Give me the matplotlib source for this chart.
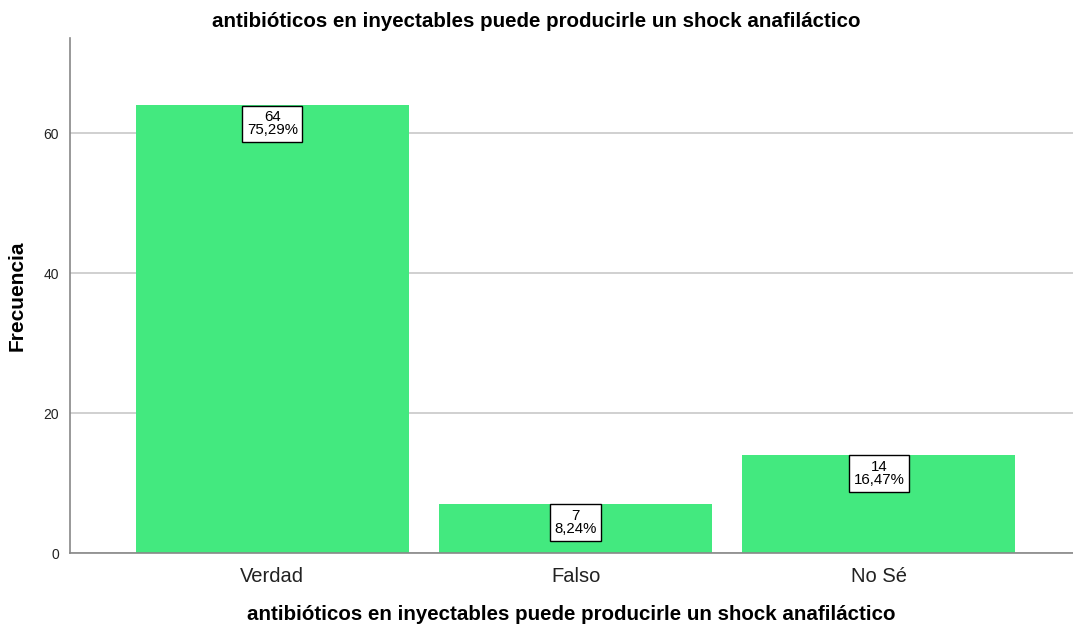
import matplotlib
matplotlib.use('Agg')
import matplotlib.pyplot as plt

categories = ["Verdad", "Falso", "No Sé"]
counts = [64, 7, 14]
percents = ["75,29%", "8,24%", "16,47%"]
yticks = [0, 20, 40, 60]
title = "antibióticos en inyectables puede producirle un shock anafiláctico"

plt.rcParams['font.family'] = ['Liberation Sans', 'DejaVu Sans']

fig = plt.figure(figsize=(10.73, 6.29), dpi=100)
ax = fig.add_axes([0.0652, 0.1208, 0.9348, 0.8188])

x = range(len(categories))
ax.bar(x, counts, width=0.9, color='#43E97F', zorder=2)
for i, (c, p) in enumerate(zip(counts, percents)):
    ax.annotate(f"{c}\n{p}", (i, c), xytext=(0, -3.5), textcoords='offset points',
                ha='center', va='top', fontsize=10.8, linespacing=0.95, zorder=4,
                bbox=dict(boxstyle='square,pad=0.3', fc='white', ec='black', lw=1))

ax.set_xlim(-0.667, 2.64)
ax.set_ylim(0, 73.6)
ax.set_xticks(list(x))
ax.set_xticklabels(categories, fontsize=14.5, color='#222222')
ax.set_yticks(yticks)
ax.set_yticklabels([str(t) for t in yticks], fontsize=10, color='#222222')
ax.tick_params(length=0, pad=8)
ax.tick_params(axis='x', pad=10)
ax.yaxis.grid(True, color='#c8c8c8', lw=1.2, zorder=1)
ax.set_axisbelow(True)
for s in ['top', 'right']:
    ax.spines[s].set_visible(False)
for s in ['left', 'bottom']:
    ax.spines[s].set_color('#888888')
    ax.spines[s].set_linewidth(1.2)

ax.set_ylabel("Frecuencia", fontsize=15, fontweight='bold')
ax.yaxis.set_label_coords(-0.043, 0.5)
ax.set_xlabel(title, fontsize=14.8, fontweight='bold', labelpad=14)
fig.text(0.5, 0.966, title, ha='center', va='center', fontsize=14.8, fontweight='bold')

fig.savefig("out.png", dpi=100)
